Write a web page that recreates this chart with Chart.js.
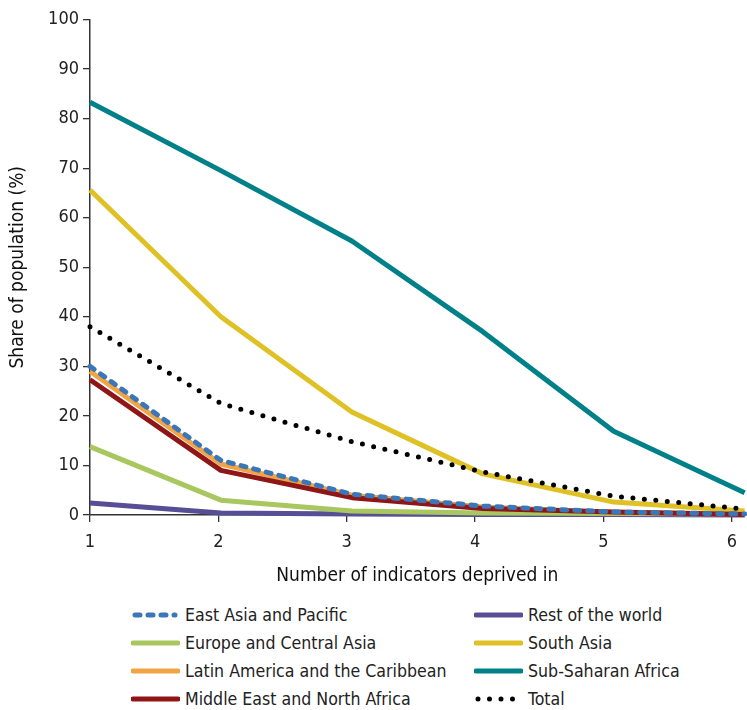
<!DOCTYPE html>
<html>
<head>
<meta charset="utf-8">
<script src="https://cdn.jsdelivr.net/npm/chart.js@4/dist/chart.umd.min.js"></script>
<style>
  html, body { margin: 0; padding: 0; background: #fff; }
  #wrap { position: relative; width: 747px; height: 710px; overflow: hidden; }
  #box { position: absolute; left: 0; top: 0; width: 747px; height: 600px; }
  .leg { position: absolute; display: flex; align-items: center; height: 28px;
         font-family: "Liberation Sans Narrow", "DejaVu Sans Condensed", "Roboto Condensed", Roboto, sans-serif;
         font-size: 17.6px; color: #222; white-space: nowrap; }
  .leg svg { margin-right: 5px; }
</style>
</head>
<body>
<div id="wrap">
  <div id="box"><canvas id="c"></canvas></div>
</div>
<script>
// ---- data ----
const categories = [1, 2, 3, 4, 5, 6];
const xTickLabels = [1, 2, 3, 4, 5, 6];
const yTickLabels = [0, 10, 20, 30, 40, 50, 60, 70, 80, 90, 100];

const eastAsiaPacific   = [30.0, 11.0, 4.2, 1.8, 0.6, 0.2];
const europeCentralAsia = [13.8, 3.0, 0.8, 0.4, 0.3, 0.2];
const latinAmerica      = [29.0, 10.3, 4.0, 1.6, 0.5, 0.2];
const middleEastNAfrica = [27.3, 9.0, 3.5, 1.3, 0.6, 0.1];
const restOfWorld       = [2.4, 0.4, 0.2, 0.1, 0.1, 0.0];
const southAsia         = [65.6, 40.0, 20.8, 8.3, 2.6, 0.8];
const subSaharanAfrica  = [83.3, 69.5, 55.3, 37.0, 16.9, 4.5];
const totalWorld        = [38.0, 22.5, 14.8, 8.7, 3.8, 1.2];

const seriesNames = ["East Asia and Pacific", "Europe and Central Asia", "Latin America and the Caribbean",
  "Middle East and North Africa", "Rest of the world", "South Asia", "Sub-Saharan Africa", "Total"];

const FONT = '"Liberation Sans Narrow", "DejaVu Sans Condensed", "Roboto Condensed", Roboto, sans-serif';

const styles = [
  { color: '#3a76b8', dash: [5, 8], cap: 'round', order: 1 },
  { color: '#a9c75f', dash: [], cap: 'butt', order: 6 },
  { color: '#f0a444', dash: [], cap: 'butt', order: 3 },
  { color: '#8e1617', dash: [], cap: 'butt', order: 2 },
  { color: '#574e96', dash: [], cap: 'butt', order: 7 },
  { color: '#dfc125', dash: [], cap: 'butt', order: 5 },
  { color: '#008189', dash: [], cap: 'butt', order: 4 },
  { color: '#000000', dash: [0, 11.5], cap: 'round', order: 0 }
];
const values = [eastAsiaPacific, europeCentralAsia, latinAmerica, middleEastNAfrica,
  restOfWorld, southAsia, subSaharanAfrica, totalWorld];

const datasets = values.map((v, i) => ({
  label: seriesNames[i],
  data: categories.map((c, k) => ({ x: c, y: v[k] })),
  xAxisID: 'xd',
  yAxisID: 'y',
  borderColor: styles[i].color,
  backgroundColor: styles[i].color,
  borderWidth: 5,
  borderDash: styles[i].dash,
  borderCapStyle: styles[i].cap,
  borderJoinStyle: 'round',
  pointRadius: 0,
  pointHoverRadius: 0,
  fill: false,
  tension: 0,
  clip: false,
  order: styles[i].order
}));

new Chart(document.getElementById('c'), {
  type: 'line',
  data: { datasets },
  options: {
    responsive: true,
    maintainAspectRatio: false,
    animation: false,
    events: [],
    layout: { padding: { top: 19.5, right: 0, left: 0, bottom: 0 } },
    plugins: { legend: { display: false }, tooltip: { enabled: false } },
    scales: {
      xd: { type: 'linear', min: 1, max: 6, display: false },
      x: {
        type: 'linear', position: 'bottom', min: 1, max: 6.1,
        afterBuildTicks: s => { s.ticks = xTickLabels.map(v => ({ value: v })); },
        afterFit: s => { s.height = 85; },
        grid: { drawOnChartArea: false, drawTicks: true, tickLength: 7, color: '#333', lineWidth: 1.3 },
        border: { display: true, color: '#333', width: 1.5 },
        ticks: { color: '#222', font: { family: FONT, size: 18 }, padding: 10, maxRotation: 0 },
        title: { display: true, text: 'Number of indicators deprived in', color: '#111',
                 font: { family: FONT, size: 19 }, padding: { top: 0, bottom: 13 }, align: 'center' }
      },
      y: {
        type: 'linear', min: 0, max: 100,
        afterBuildTicks: s => { s.ticks = yTickLabels.map(v => ({ value: v })); },
        afterFit: s => { s.width = 90; },
        grid: { drawOnChartArea: false, drawTicks: true, tickLength: 7, color: '#333', lineWidth: 1.3 },
        border: { display: true, color: '#333', width: 1.5 },
        ticks: { color: '#222', font: { family: FONT, size: 18 }, padding: 4 },
        title: { display: true, text: 'Share of population (%)', color: '#111',
                 font: { family: FONT, size: 19 }, padding: { top: 7, bottom: 0 } }
      }
    }
  }
});

// ---- HTML legend (two columns, column-major) ----
const wrap = document.getElementById('wrap');
const legPos = [
  [131, 601], [131, 629], [131, 657], [131, 685],
  [474, 601], [474, 629], [474, 657], [474, 685]
];
seriesNames.forEach((name, i) => {
  const d = document.createElement('div');
  d.className = 'leg';
  d.style.left = legPos[i][0] + 'px';
  d.style.top = legPos[i][1] + 'px';
  const st = styles[i];
  let dashAttr = '';
  if (st.dash.length) dashAttr = `stroke-dasharray="${st.dash.join(' ')}"`;
  const x1 = st.cap === 'round' ? 4 : 2, x2 = st.cap === 'round' ? 44 : 47;
  d.innerHTML = `<svg width="49" height="10"><line x1="${x1}" y1="5" x2="${x2}" y2="5" stroke="${st.color}" stroke-width="5" stroke-linecap="round" ${dashAttr}/></svg><span>${name}</span>`;
  wrap.appendChild(d);
});
</script>
</body>
</html>
